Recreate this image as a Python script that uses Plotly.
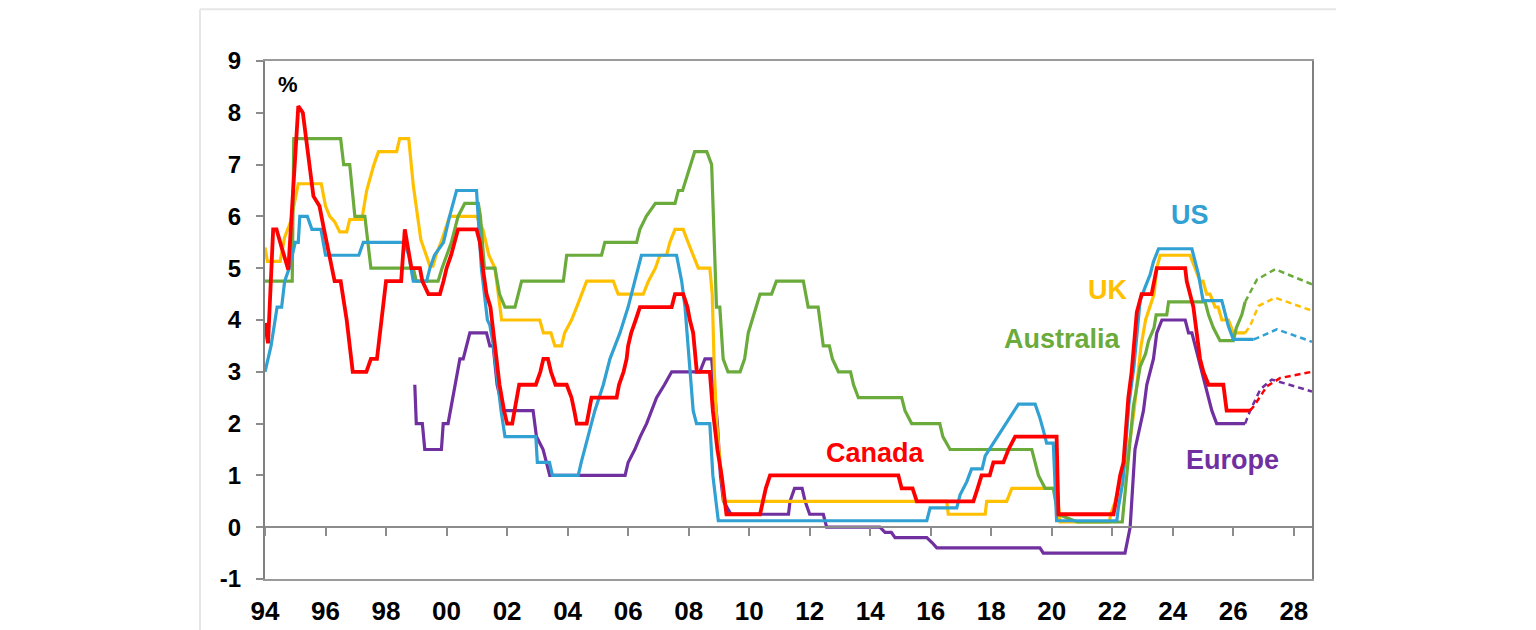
import plotly.graph_objects as go

# central bank policy rates, %, decimal years
us_t = [1994.0, 1994.2, 1994.4, 1994.55, 1994.65, 1994.8, 1995.0, 1995.1, 1995.15, 1995.4, 1995.55, 1995.85,
        1996.0, 1997.1, 1997.25, 1998.6, 1998.75, 1998.82, 1998.9, 1999.34, 1999.45, 1999.6, 1999.9, 2000.1,
        2000.33, 2000.99, 2001.05, 2001.15, 2001.25, 2001.35, 2001.43, 2001.55, 2001.7, 2001.8, 2001.93,
        2002.95, 2003.0, 2003.4, 2003.5, 2004.35, 2004.45, 2004.68, 2004.9, 2005.18, 2005.4, 2005.73, 2006.0,
        2006.22, 2006.44, 2007.6, 2007.77, 2007.88, 2008.05, 2008.15, 2008.26, 2008.7, 2008.8, 2008.98,
        2015.87, 2015.98, 2016.86, 2016.97, 2017.19, 2017.35, 2017.7, 2017.8, 2018.07, 2018.35, 2018.62,
        2018.9, 2019.45, 2019.6, 2019.72, 2019.83, 2020.05, 2020.16, 2022.15, 2022.2, 2022.35, 2022.45,
        2022.55, 2022.72, 2022.83, 2022.92, 2023.08, 2023.25, 2023.36, 2023.53, 2024.63, 2024.74, 2024.85,
        2025.0, 2025.62, 2025.73, 2025.84, 2026.0, 2026.67]
us_v = [3.0, 3.5, 4.25, 4.25, 4.75, 5.0, 5.5, 5.5, 6.0, 6.0, 5.75, 5.75,
        5.25, 5.25, 5.5, 5.5, 5.25, 5.0, 4.75, 4.75, 5.0, 5.25, 5.5, 6.0,
        6.5, 6.5, 6.0, 5.0, 4.5, 4.0, 3.9, 3.5, 2.75, 2.25, 1.75,
        1.75, 1.25, 1.25, 1.0, 1.0, 1.25, 1.75, 2.25, 2.75, 3.25, 3.75, 4.25,
        4.75, 5.25, 5.25, 4.75, 4.25, 3.0, 2.25, 2.0, 2.0, 1.0, 0.125,
        0.125, 0.375, 0.375, 0.625, 0.875, 1.125, 1.125, 1.375, 1.625, 1.875, 2.125,
        2.375, 2.375, 2.125, 1.875, 1.625, 1.625, 0.125, 0.125, 0.375, 0.875, 1.625,
        2.375, 3.125, 3.875, 4.375, 4.625, 4.875, 5.125, 5.375, 5.375, 5.125, 4.875,
        4.375, 4.375, 4.125, 3.875, 3.625, 3.625]
us_fc_t = [2026.67, 2026.78, 2027.44, 2028.6]
us_fc_v = [3.625, 3.65, 3.82, 3.58]

uk_t = [1994.0, 1994.08, 1994.5, 1994.65, 1994.85, 1995.1, 1995.86, 1996.0, 1996.14, 1996.3, 1996.47, 1996.7,
        1996.8, 1997.2, 1997.36, 1997.6, 1997.75, 1998.35, 1998.45, 1998.75, 1998.9, 1999.0, 1999.15, 1999.3,
        1999.45, 1999.55, 1999.66, 1999.83, 2000.1, 2000.99, 2001.2, 2001.4, 2001.6, 2001.82, 2003.08,
        2003.2, 2003.45, 2003.58, 2003.8, 2003.9, 2004.13, 2004.3, 2004.46, 2004.63, 2005.51, 2005.67,
        2006.5, 2006.67, 2006.9, 2007.05, 2007.27, 2007.38, 2007.55, 2007.82, 2007.98, 2008.15, 2008.32,
        2008.7, 2008.78, 2008.85, 2008.93, 2009.0, 2009.08, 2009.17, 2016.53, 2016.58, 2017.8, 2017.85,
        2018.51, 2018.68, 2020.17, 2020.27, 2021.9, 2021.95, 2022.1, 2022.2, 2022.3, 2022.45, 2022.6,
        2022.72, 2022.85, 2022.95, 2023.1, 2023.25, 2023.38, 2023.47, 2023.58, 2024.57, 2024.74, 2024.9,
        2025.0, 2025.12, 2025.23, 2025.4, 2025.5, 2025.62, 2025.84, 2026.0, 2026.39]
uk_v = [5.4, 5.13, 5.13, 5.6, 5.9, 6.63, 6.63, 6.2, 6.0, 5.9, 5.7, 5.7,
        5.94, 5.94, 6.5, 7.0, 7.25, 7.25, 7.5, 7.5, 6.6, 6.13, 5.55, 5.3,
        5.04, 5.04, 5.27, 5.52, 6.0, 6.0, 5.75, 5.25, 5.0, 4.0, 4.0,
        3.75, 3.75, 3.5, 3.5, 3.75, 4.0, 4.25, 4.5, 4.75, 4.75, 4.5,
        4.5, 4.75, 5.0, 5.25, 5.25, 5.5, 5.75, 5.75, 5.5, 5.25, 5.0,
        5.0, 4.5, 3.0, 2.0, 1.5, 1.0, 0.5, 0.5, 0.25, 0.25, 0.5,
        0.5, 0.75, 0.75, 0.1, 0.1, 0.25, 0.5, 0.75, 1.0, 1.25, 1.75,
        2.25, 3.0, 3.5, 4.0, 4.25, 4.5, 5.0, 5.25, 5.25, 5.0, 4.75,
        4.75, 4.5, 4.5, 4.25, 4.25, 4.0, 4.0, 3.75, 3.75]
uk_fc_t = [2026.39, 2026.55, 2026.83, 2027.38, 2028.6]
uk_fc_v = [3.75, 3.88, 4.27, 4.43, 4.18]

au_t = [1994.0, 1994.9, 1994.95, 1996.5, 1996.6, 1996.8, 1996.97, 1997.3, 1997.5, 1998.9, 1999.0, 1999.72,
        1999.85, 2000.16, 2000.38, 2000.6, 2001.05, 2001.12, 2001.25, 2001.6, 2001.75, 2001.93, 2002.26,
        2002.48, 2003.86, 2003.97, 2005.12, 2005.23, 2006.28, 2006.39, 2006.6, 2006.9, 2007.55, 2007.66,
        2007.8, 2007.93, 2008.08, 2008.2, 2008.6, 2008.76, 2008.92, 2009.03, 2009.14, 2009.3, 2009.7,
        2009.85, 2009.97, 2010.1, 2010.36, 2010.74, 2010.9, 2011.79, 2011.95, 2012.28, 2012.45, 2012.65,
        2012.75, 2012.95, 2013.35, 2013.45, 2013.61, 2015.04, 2015.15, 2015.37, 2016.3, 2016.4, 2016.64,
        2019.34, 2019.56, 2019.78, 2020.05, 2020.2, 2020.85, 2022.33, 2022.37, 2022.45, 2022.53, 2022.62,
        2022.7, 2022.78, 2022.86, 2022.92, 2023.1, 2023.2, 2023.38, 2023.45, 2023.8, 2023.86, 2025.07,
        2025.18, 2025.34, 2025.56, 2026.0, 2026.1, 2026.28, 2026.39]
au_v = [4.75, 4.75, 7.5, 7.5, 7.0, 7.0, 6.0, 6.0, 5.0, 5.0, 4.75, 4.75,
        5.0, 5.5, 6.0, 6.25, 6.25, 6.0, 5.0, 5.0, 4.5, 4.25, 4.25,
        4.75, 4.75, 5.25, 5.25, 5.5, 5.5, 5.75, 6.0, 6.25, 6.25, 6.5,
        6.5, 6.75, 7.0, 7.25, 7.25, 7.0, 4.25, 4.25, 3.25, 3.0, 3.0,
        3.25, 3.75, 4.0, 4.5, 4.5, 4.75, 4.75, 4.25, 4.25, 3.5, 3.5,
        3.25, 3.0, 3.0, 2.75, 2.5, 2.5, 2.25, 2.0, 2.0, 1.75, 1.5,
        1.5, 1.0, 0.75, 0.75, 0.25, 0.1, 0.1, 0.35, 0.85, 1.35, 1.85,
        2.35, 2.6, 2.85, 3.1, 3.35, 3.6, 3.85, 4.1, 4.1, 4.35, 4.35,
        4.1, 3.85, 3.6, 3.6, 3.85, 4.1, 4.35]
au_fc_t = [2026.39, 2026.78, 2027.38, 2028.6]
au_fc_v = [4.35, 4.78, 4.98, 4.69]

ca_t = [1994.0, 1994.1, 1994.27, 1994.38, 1994.55, 1994.77, 1995.1, 1995.25, 1995.6, 1995.8, 1995.95, 1996.3,
        1996.5, 1996.7, 1996.9, 1997.35, 1997.5, 1997.7, 1998.0, 1998.5, 1998.62, 1998.84, 1999.12, 1999.2,
        1999.4, 1999.78, 1999.9, 2000.0, 2000.15, 2000.38, 2000.99, 2001.1, 2001.2, 2001.32, 2001.45,
        2001.65, 2001.75, 2001.9, 2002.0, 2002.17, 2002.25, 2002.32, 2002.4, 2002.95, 2003.1, 2003.2,
        2003.35, 2003.45, 2003.6, 2003.97, 2004.13, 2004.22, 2004.3, 2004.63, 2004.79, 2005.62, 2005.7,
        2005.85, 2005.95, 2006.0, 2006.1, 2006.25, 2006.39, 2007.44, 2007.55, 2007.82, 2007.96, 2008.04,
        2008.15, 2008.27, 2008.7, 2008.8, 2008.95, 2009.09, 2009.2, 2009.25, 2010.36, 2010.45, 2010.55,
        2010.69, 2014.93, 2015.04, 2015.4, 2015.54, 2017.41, 2017.55, 2017.68, 2017.95, 2018.07, 2018.4,
        2018.57, 2018.79, 2020.16, 2020.22, 2022.04, 2022.12, 2022.26, 2022.37, 2022.53, 2022.64, 2022.81,
        2022.97, 2023.3, 2023.47, 2024.41, 2024.46, 2024.57, 2024.68, 2024.79, 2024.9, 2025.01, 2025.18,
        2025.67, 2025.78, 2026.55]
ca_v = [3.94, 3.55, 5.75, 5.75, 5.4, 4.97, 8.13, 8.0, 6.39, 6.2, 5.75, 4.75,
        4.75, 4.0, 3.0, 3.0, 3.25, 3.25, 4.75, 4.75, 5.75, 5.0, 5.0, 4.75,
        4.5, 4.5, 4.75, 5.0, 5.25, 5.75, 5.75, 5.5, 5.0, 4.5, 4.25,
        3.25, 2.75, 2.25, 2.0, 2.0, 2.25, 2.5, 2.75, 2.75, 3.0, 3.25,
        3.25, 3.0, 2.75, 2.75, 2.5, 2.25, 2.0, 2.0, 2.5, 2.5, 2.75,
        3.0, 3.25, 3.5, 3.75, 4.0, 4.25, 4.25, 4.5, 4.5, 4.25, 4.0,
        3.75, 3.0, 3.0, 2.25, 1.5, 1.0, 0.5, 0.25, 0.25, 0.5, 0.75,
        1.0, 1.0, 0.75, 0.75, 0.5, 0.5, 0.75, 1.0, 1.0, 1.25, 1.25,
        1.5, 1.75, 1.75, 0.25, 0.25, 0.5, 1.0, 1.25, 2.5, 3.0, 4.15,
        4.5, 4.5, 5.0, 5.0, 4.75, 4.5, 4.25, 3.75, 3.25, 3.0, 2.75,
        2.75, 2.25, 2.25]
ca_fc_t = [2026.55, 2026.67, 2027.11, 2027.55, 2028.6]
ca_fc_v = [2.25, 2.33, 2.72, 2.88, 3.0]

eu_t = [1998.95, 1999.0, 1999.2, 1999.28, 1999.83, 1999.89, 2000.05, 2000.27, 2000.44, 2000.55, 2000.77, 2001.32,
        2001.43, 2001.54, 2001.67, 2001.87, 2002.86, 2002.97, 2003.19, 2003.3, 2003.41, 2005.9, 2006.0,
        2006.22, 2006.4, 2006.61, 2006.78, 2006.94, 2007.2, 2007.44, 2008.37, 2008.54, 2008.76, 2008.8,
        2008.95, 2009.05, 2009.15, 2009.4, 2011.3, 2011.35, 2011.5, 2011.75, 2011.85, 2012.0, 2012.45,
        2012.56, 2014.32, 2014.49, 2014.7, 2014.82, 2015.87, 2016.05, 2016.2, 2019.61, 2019.72, 2022.42,
        2022.59, 2022.75, 2022.92, 2023.03, 2023.14, 2023.25, 2023.36, 2023.47, 2023.64, 2024.41, 2024.52,
        2024.63, 2024.74, 2024.85, 2024.96, 2025.07, 2025.18, 2025.29, 2025.45, 2026.39]
eu_v = [2.75, 2.0, 2.0, 1.5, 1.5, 2.0, 2.0, 2.75, 3.25, 3.25, 3.75, 3.75,
        3.5, 3.5, 2.75, 2.25, 2.25, 1.75, 1.5, 1.25, 1.0, 1.0, 1.25,
        1.5, 1.75, 2.0, 2.25, 2.5, 2.75, 3.0, 3.0, 3.25, 3.25, 3.0,
        2.0, 1.0, 0.5, 0.25, 0.25, 0.5, 0.75, 0.75, 0.5, 0.25, 0.25,
        0.0, 0.0, -0.1, -0.1, -0.2, -0.2, -0.3, -0.4, -0.4, -0.5, -0.5,
        0.0, 1.5, 2.0, 2.25, 2.75, 3.0, 3.25, 3.75, 4.0, 4.0, 3.75,
        3.75, 3.5, 3.25, 3.0, 2.75, 2.5, 2.25, 2.0, 2.0]
eu_fc_t = [2026.39, 2026.55, 2026.89, 2027.27, 2028.6]
eu_fc_v = [2.0, 2.24, 2.66, 2.85, 2.62]

tick_years = [1994, 1996, 1998, 2000, 2002, 2004, 2006, 2008, 2010, 2012, 2014, 2016,
              2018, 2020, 2022, 2024, 2026, 2028]
tick_labels = ["94", "96", "98", "00", "02", "04", "06", "08", "10", "12", "14", "16",
               "18", "20", "22", "24", "26", "28"]
y_ticks = [-1, 0, 1, 2, 3, 4, 5, 6, 7, 8, 9]
y_labels = ["-1", "0", "1", "2", "3", "4", "5", "6", "7", "8", "9"]

FONT = "Liberation Sans, Arial, sans-serif"

series = [
    ("Europe", eu_t, eu_v, eu_fc_t, eu_fc_v, "#7030a0", 3.2),
    ("UK", uk_t, uk_v, uk_fc_t, uk_fc_v, "#ffc000", 3.2),
    ("Australia", au_t, au_v, au_fc_t, au_fc_v, "#6aab3c", 3.2),
    ("US", us_t, us_v, us_fc_t, us_fc_v, "#31a0d2", 3.2),
    ("Canada", ca_t, ca_v, ca_fc_t, ca_fc_v, "#ff0000", 3.8),
]

fig = go.Figure()
for nom, t, v, ft, fv, co, w in series:
    fig.add_trace(go.Scatter(x=t, y=v, mode="lines", name=nom,
                             line=dict(color=co, width=w)))
    fig.add_trace(go.Scatter(x=ft, y=fv, mode="lines", name=nom + " forecast",
                             line=dict(color=co, width=2.5, dash="6px,4px")))

# empty trace so the zero-line axis (with its ticks) gets drawn
fig.add_trace(go.Scatter(x=[None], y=[None], xaxis="x2", yaxis="y", mode="lines",
                         showlegend=False, hoverinfo="skip"))

# series labels
labels = [
    ("US", 2024.57, 6.02, "#31a0d2"),
    ("UK", 2021.83, 4.57, "#ffc000"),
    ("Australia", 2020.34, 3.64, "#6aab3c"),
    ("Canada", 2014.16, 1.44, "#ff0000"),
    ("Europe", 2025.96, 1.30, "#7030a0"),
]
for txt, lx, ly, co in labels:
    fig.add_annotation(x=lx, y=ly, text=txt, showarrow=False,
                       font=dict(family=FONT, size=27, color=co, weight="bold"))
fig.add_annotation(x=1994.75, y=8.55, text="%", showarrow=False,
                   font=dict(family=FONT, size=22, color="black", weight="bold"))

# faint outer frame (top and left edges)
fig.add_shape(type="line", xref="paper", yref="paper", x0=-0.0621, x1=1.0229, y0=1.1, y1=1.1,
              line=dict(color="#e6e6e6", width=2))
fig.add_shape(type="line", xref="paper", yref="paper", x0=-0.0621, x1=-0.0621, y0=1.1, y1=-0.12,
              line=dict(color="#e6e6e6", width=2))

fig.update_layout(
    width=1536, height=630,
    margin=dict(l=257, r=232, t=53, b=59),
    paper_bgcolor="white", plot_bgcolor="white",
    showlegend=False,
    xaxis=dict(range=[1994, 2028.6], tickmode="array", tickvals=tick_years, ticktext=tick_labels,
               showgrid=False, zeroline=False, showline=True, mirror=True,
               linecolor="#9a9a9a", linewidth=2, ticks="", ticklabelstandoff=8,
               tickfont=dict(family=FONT, size=26, color="black", weight="bold")),
    xaxis2=dict(matches="x", overlaying="x", anchor="free", position=0.1,
                tickmode="array", tickvals=tick_years, showticklabels=False,
                showgrid=False, zeroline=False, showline=True, linecolor="#8c8c8c", linewidth=2,
                ticks="outside", ticklen=8, tickwidth=2, tickcolor="#8c8c8c"),
    yaxis=dict(range=[-1, 9], tickmode="array", tickvals=y_ticks, ticktext=y_labels,
               showgrid=False, zeroline=False, showline=True, mirror=True,
               linecolor="#808080", linewidth=2, ticks="outside", ticklen=7, tickwidth=2,
               tickcolor="#8c8c8c", ticklabelstandoff=10,
               tickfont=dict(family=FONT, size=24, color="black", weight="bold")),
)

fig.write_html("out.html")
